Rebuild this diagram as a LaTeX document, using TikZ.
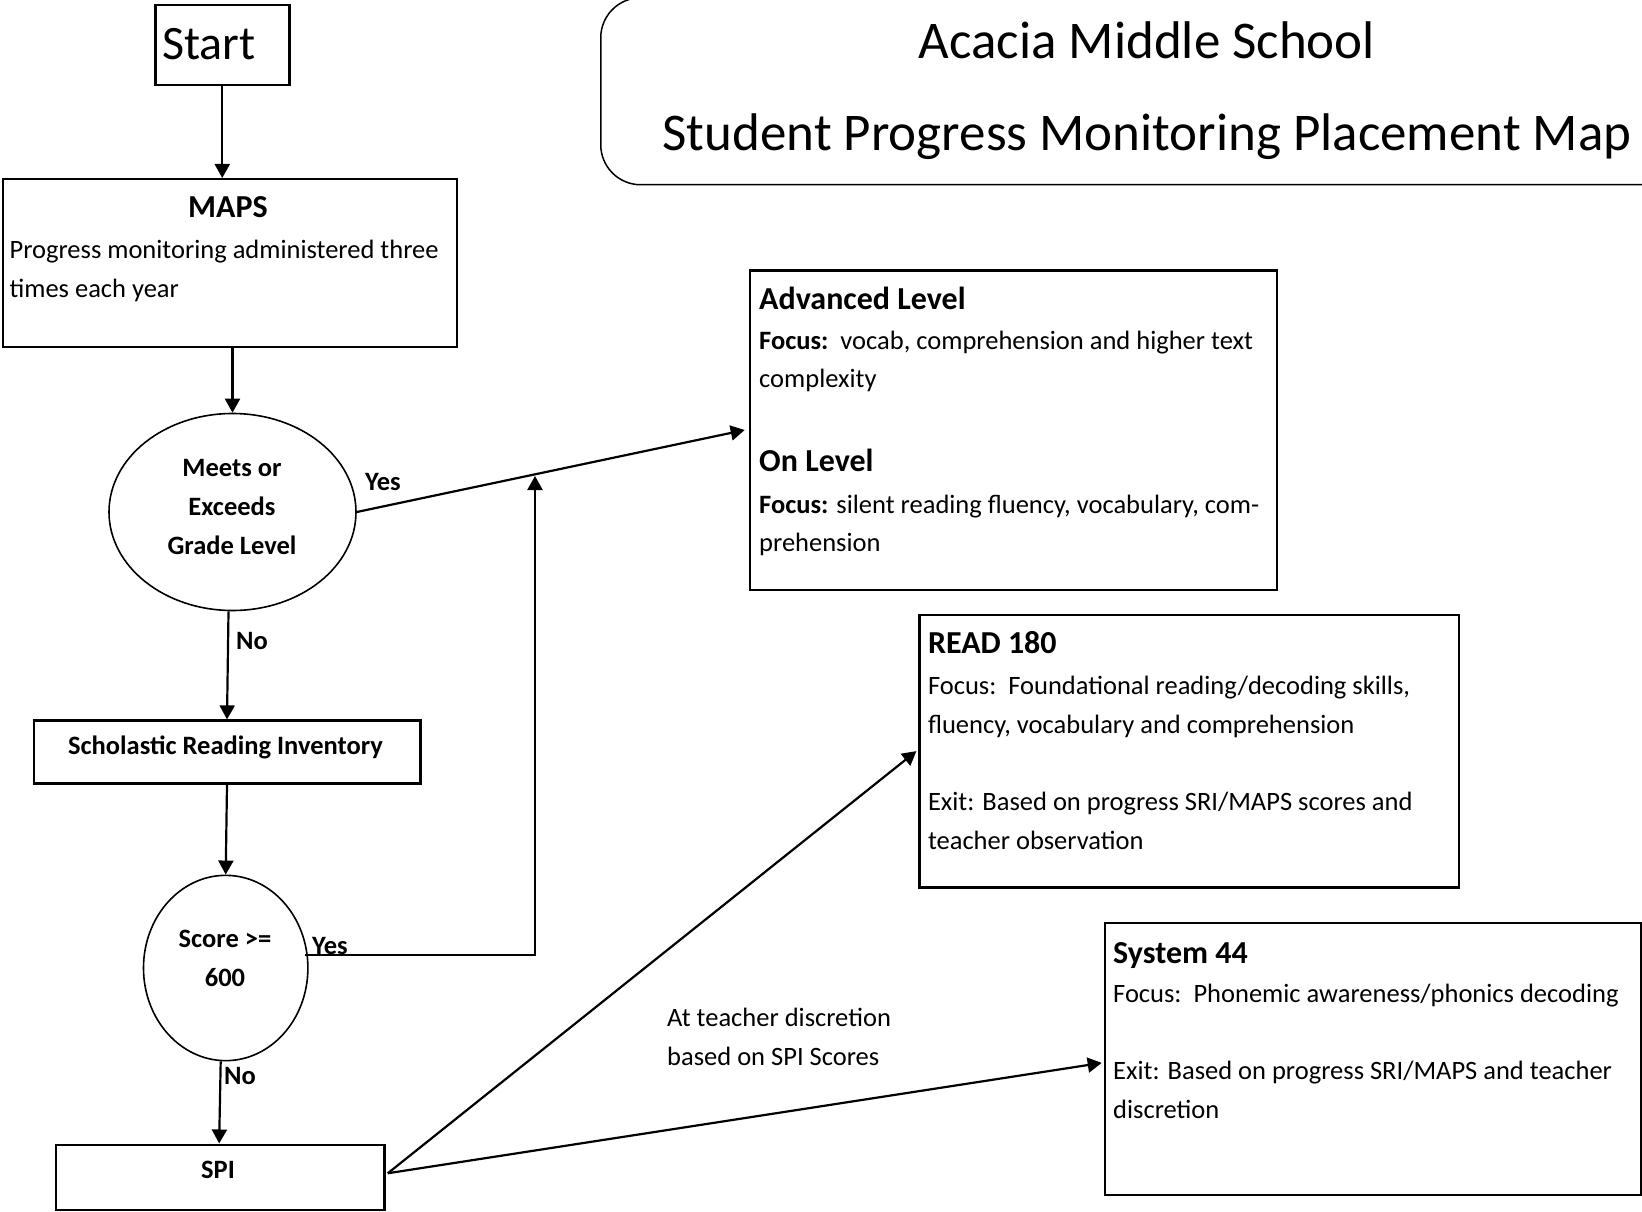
\documentclass[tikz,border=0pt]{standalone}
\usepackage{fontspec}
\setmainfont{Carlito}
\usetikzlibrary{arrows.meta,shapes.geometric}
\begin{document}
\begin{tikzpicture}[x=1pt,y=-1pt,
 box/.style={draw, line width=2.5pt, inner sep=0pt, anchor=north west},
 ell/.style={draw, ellipse, line width=1.6pt, inner sep=0pt},
 conn/.style={line width=2.2pt},
 arr/.style={conn, -{Triangle[length=14pt,width=15pt]}},
 body/.style={inner sep=0pt, anchor=base west, font=\fontsize{26.5}{32}\selectfont},
 bbody/.style={inner sep=0pt, anchor=base west, font=\fontsize{26.5}{32}\selectfont\bfseries},
 cbody/.style={inner sep=0pt, anchor=base, font=\fontsize{26.5}{32}\selectfont\bfseries},
 head/.style={inner sep=0pt, anchor=base west, font=\fontsize{32}{38}\selectfont\bfseries},
 title/.style={inner sep=0pt, anchor=base, font=\fontsize{53}{60}\selectfont},
 ]
\useasboundingbox (0,0) rectangle (1642,1212);
\fill[white] (0,0) rectangle (1642,1212);

% title
\node[draw, line width=1.5pt, rounded corners=40pt, anchor=north west, minimum width=1100pt, minimum height=187pt] (titlebox) at (600,-3) {};
\node[title] (t1) at (1147,59) {Acacia Middle School};
\node[title] (t2) at (1147,151) {Student Progress Monitoring Placement Map};

% boxes
\node[box, minimum width=134pt, minimum height=80pt] (start) at (154,4) {};
\node[inner sep=0pt, anchor=base west, font=\fontsize{48}{56}\selectfont] (starttxt) at (162,60) {Start};

\node[box, minimum width=454pt, minimum height=167.6pt] (maps) at (1.5,178) {};
\node[inner sep=0pt, anchor=base, font=\fontsize{32}{38}\selectfont\bfseries] (mapst) at (228,218) {MAPS};
\node[body] (maps1) at (9.4,258) {Progress monitoring administered three};
\node[body] (maps2) at (9.4,297) {times each year};

\node[ell, minimum width=247pt, minimum height=197pt] (e1) at (232.5,512) {};
\node[cbody] (e1a) at (232,476) {Meets or};
\node[cbody] (e1b) at (232,515) {Exceeds};
\node[cbody] (e1c) at (232,554) {Grade Level};

\node[box, minimum width=386.5pt, minimum height=63pt] (sri) at (32.5,719.4) {};
\node[cbody] (srit) at (225.5,754) {Scholastic Reading Inventory};

\node[ell, minimum width=164.4pt, minimum height=185.3pt] (e2) at (225.7,968) {};
\node[cbody] (e2a) at (225,947) {Score >=};
\node[cbody] (e2b) at (225,986) {600};

\node[box, minimum width=328.8pt, minimum height=65pt] (spi) at (54.5,1143.5) {};
\node[cbody] (spit) at (218,1178) {SPI};

\node[box, minimum width=526.8pt, minimum height=319.5pt] (adv) at (748.7,269) {};
\node[head] (adv1) at (759,309) {Advanced Level};
\node[body] (adv2) at (759,349.5) {\textbf{Focus:}\ \ vocab, comprehension and higher text};
\node[body] (adv3) at (759,387) {complexity};
\node[head] (adv4) at (759,471) {On Level};
\node[body] (adv5) at (759,513) {\textbf{Focus:} silent reading fluency, vocabulary, com-};
\node[body] (adv6) at (759,551) {prehension};

\node[box, minimum width=539.3pt, minimum height=272.3pt] (r180) at (918.4,613.7) {};
\node[head] (r1) at (927.8,653) {READ 180};
\node[body] (r2) at (927.8,694) {Focus:\ \ Foundational reading/decoding skills,};
\node[body] (r3) at (927.8,733) {fluency, vocabulary and comprehension};
\node[body] (r4) at (927.8,810) {Exit: Based on progress SRI/MAPS scores and};
\node[body] (r5) at (927.8,849) {teacher observation};

\node[box, minimum width=536.3pt, minimum height=272.3pt] (s44) at (1103.7,921.5) {};
\node[head] (s1) at (1113,963) {System 44};
\node[body] (s2) at (1113,1002) {Focus:\ \ Phonemic awareness/phonics decoding};
\node[body] (s3) at (1113,1079) {Exit: Based on progress SRI/MAPS and teacher};
\node[body] (s4) at (1113,1118) {discretion};

\node[body] (d1) at (667,1026) {At teacher discretion};
\node[body] (d2) at (667,1065) {based on SPI Scores};

% labels
\node[bbody] (yes1) at (365,490) {Yes};
\node[bbody] (no1) at (236,649) {No};
\node[bbody] (yes2) at (312,954) {Yes};
\node[bbody] (no2) at (224,1084) {No};

% connectors
\draw[arr] (start.south) -- (start.south |- maps.north);
\draw[arr] (e1.north |- maps.south) -- (e1.north);
\draw[arr] (e1.east) -- ([xshift=-4pt]adv.west);
\draw[arr] ([xshift=-4pt]e1.south) -- (sri.north);
\draw[arr] (sri.south) -- (e2.north);
\coordinate (j) at (535,476);
\draw[arr] ([xshift=-3pt]e2.9) -| (j);
\draw[arr] ([xshift=-5pt]e2.south) -- ([xshift=-1pt]spi.north);
\draw[arr] ([xshift=2pt,yshift=4pt]spi.east) -- ([xshift=-2pt]r180.west);
\draw[arr] ([xshift=2pt,yshift=4pt]spi.east) -- ([xshift=-2pt,yshift=-4pt]s44.west);
\end{tikzpicture}
\end{document}
